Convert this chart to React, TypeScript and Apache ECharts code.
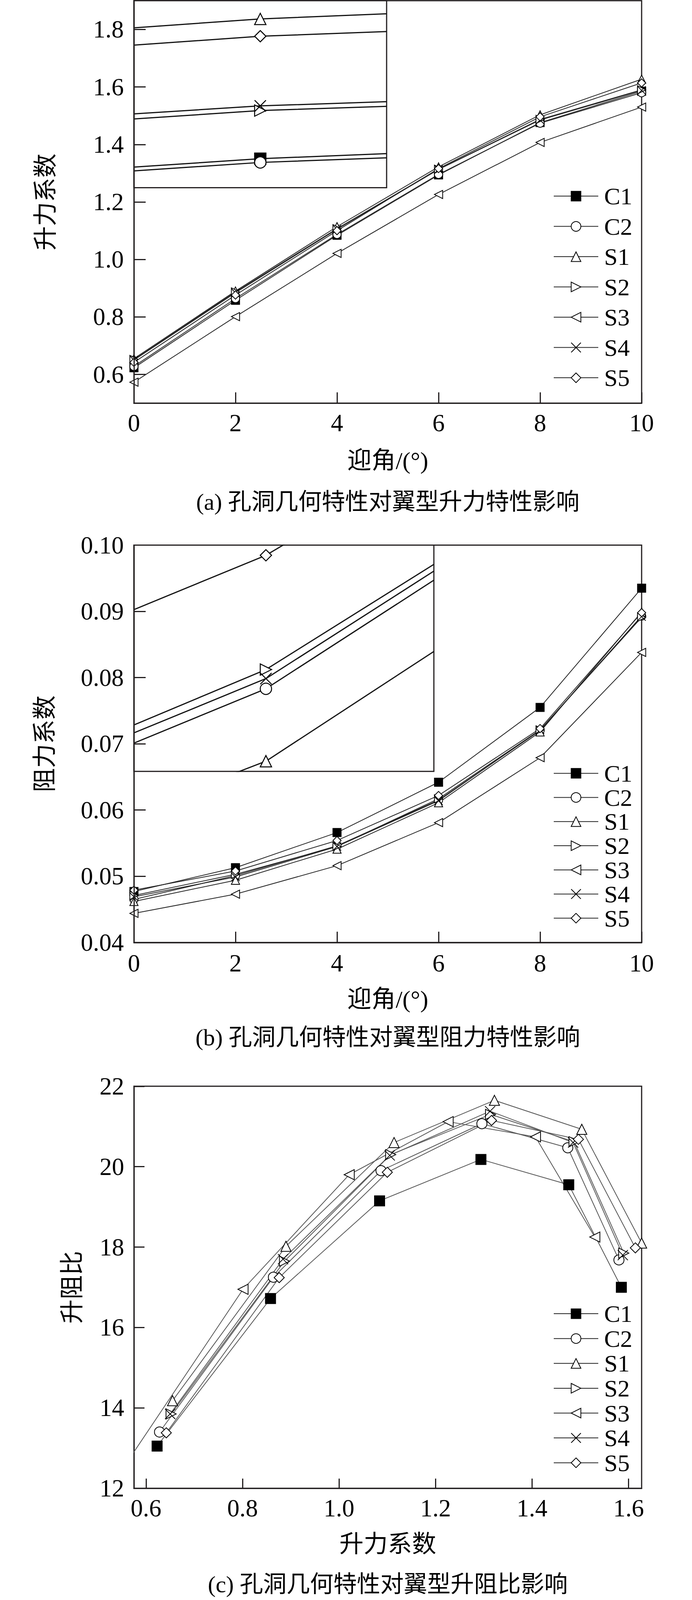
import React, { useEffect, useRef } from 'react';
import * as echarts from 'echarts';

const FONT = '"Liberation Serif", "Times New Roman", "Noto Sans CJK SC", serif';
const FRAME = '#231f20';

const NAMES = ['C1', 'C2', 'S1', 'S2', 'S3', 'S4', 'S5'];
const ALPHA = [0, 2, 4, 6, 8, 10];

// (a) lift coefficient vs angle of attack
const CL_C1 = [0.623, 0.858, 1.084, 1.294, 1.476, 1.585];
const CL_C2 = [0.628, 0.864, 1.087, 1.296, 1.474, 1.580];
const CL_S1 = [0.655, 0.890, 1.114, 1.322, 1.503, 1.627];
const CL_S2 = [0.652, 0.887, 1.107, 1.314, 1.487, 1.590];
const CL_S3 = [0.573, 0.801, 1.021, 1.226, 1.407, 1.530];
const CL_S4 = [0.650, 0.884, 1.105, 1.313, 1.485, 1.588];
const CL_S5 = [0.642, 0.876, 1.100, 1.316, 1.496, 1.614];

// (b) drag coefficient vs angle of attack
const CD_C1 = [0.0477, 0.0513, 0.0566, 0.0642, 0.0755, 0.0935];
const CD_C2 = [0.0465, 0.0501, 0.0546, 0.0615, 0.0720, 0.0893];
const CD_S1 = [0.0462, 0.0494, 0.0541, 0.0611, 0.0718, 0.0899];
const CD_S2 = [0.0471, 0.0503, 0.0545, 0.0617, 0.0721, 0.0891];
const CD_S3 = [0.0444, 0.0473, 0.0516, 0.0581, 0.0679, 0.0838];
const CD_S4 = [0.0469, 0.0499, 0.0545, 0.0614, 0.0721, 0.0892];
const CD_S5 = [0.0479, 0.0508, 0.0554, 0.0622, 0.0723, 0.0898];

// (c) lift-to-drag ratio vs lift coefficient
const LD_C1 = [13.05, 16.72, 19.15, 20.18, 19.55, 17.0];
const LD_C2 = [13.4, 17.25, 19.9, 21.07, 20.47, 17.68];
const LD_S1 = [14.18, 18.02, 20.6, 21.65, 20.93, 18.1];
const LD_S2 = [13.85, 17.65, 20.3, 21.3, 20.62, 17.85];
const LD_S3 = [12.87, 16.95, 19.8, 21.12, 20.74, 18.25];
const LD_S4 = [13.85, 17.7, 20.28, 21.38, 20.6, 17.8];
const LD_S5 = [13.38, 17.24, 19.86, 21.15, 20.68, 17.98];

// inset (a): magnified window around alpha = 2.5
const INSET_A_X = [2.4, 2.5, 2.6];
const INSET_A_XRANGE = [2.4, 2.6];
const INSET_A_YRANGE = [0.91, 0.95];
const INSET_A_C1 = [0.9144, 0.9162, 0.9173];
const INSET_A_C2 = [0.9136, 0.9154, 0.9164];
const INSET_A_S1 = [0.9442, 0.9461, 0.9472];
const INSET_A_S2 = [0.9247, 0.9265, 0.9274];
const INSET_A_S4 = [0.9258, 0.9275, 0.9284];
const INSET_A_S5 = [0.9405, 0.9424, 0.9434];

// inset (b): magnified window around alpha = 2
const INSET_B_X = [1.12, 2.0, 3.12];
const INSET_B_XRANGE = [1.12, 3.12];
const INSET_B_YRANGE = [0.049, 0.051];
const INSET_B_C2 = [0.04925, 0.04973, 0.05069];
const INSET_B_S1 = [0.04864, 0.04909, 0.05006];
const INSET_B_S2 = [0.04941, 0.0499, 0.05083];
const INSET_B_S4 = [0.04934, 0.04982, 0.05077];
const INSET_B_S5 = [0.05043, 0.05091, 0.05179];

const Y_TICKS_A = [0.6, 0.8, 1.0, 1.2, 1.4, 1.6, 1.8];
const X_TICKS_C = [0.6, 0.8, 1.0, 1.2, 1.4, 1.6];

const CAPTIONS = [
  '(a) 孔洞几何特性对翼型升力特性影响',
  '(b) 孔洞几何特性对翼型阻力特性影响',
  '(c) 孔洞几何特性对翼型升阻比影响',
];

const CL = [CL_C1, CL_C2, CL_S1, CL_S2, CL_S3, CL_S4, CL_S5];
const CD = [CD_C1, CD_C2, CD_S1, CD_S2, CD_S3, CD_S4, CD_S5];
const LD = [LD_C1, LD_C2, LD_S1, LD_S2, LD_S3, LD_S4, LD_S5];

const SYMBOLS: Record<string, string> = {
  C1: 'rect',
  C2: 'circle',
  S1: 'triangle',
  S2: 'path://M0,0L10,5L0,10Z',
  S3: 'path://M10,0L0,5L10,10Z',
  S4: 'path://M0,0L10,10M10,0L0,10',
  S5: 'diamond',
};

const REF_W = 1772;
const REF_H = 4441;

function lineSeries(name: string, points: any[], gi: number, opt: any) {
  return {
    type: 'line',
    name,
    xAxisIndex: gi,
    yAxisIndex: gi,
    data: points,
    symbol: SYMBOLS[name.split('-')[0]],
    symbolSize: opt.size,
    showAllSymbol: true,
    silent: true,
    emphasis: { disabled: true },
    itemStyle: {
      color: name.startsWith('C1') ? '#000' : '#fff',
      borderColor: '#000',
      borderWidth: opt.bw ?? 2,
    },
    lineStyle: { color: opt.color, width: opt.width },
    z: opt.z ?? 3,
    animation: false,
  };
}

function insetSeries(name: string, xs: number[], ys: number[], gi: number, size: number) {
  const pts = xs.map((x, i) =>
    i === 1 ? { value: [x, ys[i]] } : { value: [x, ys[i]], symbol: 'none' }
  );
  return lineSeries(name + '-inset', pts, gi, {
    size,
    color: '#111',
    width: 3,
    bw: 2.5,
    z: 11,
  });
}

function buildOption(sy: number) {
  const Y = (v: number) => Math.round(v * sy * 10) / 10;
  const fs = (v: number) => Math.round(v * (0.5 + 0.5 * sy));
  const ms = (v: number) => Math.round(v * (0.5 + 0.5 * sy));

  const axisCommon = {
    type: 'value',
    axisLine: { show: true, onZero: false, lineStyle: { color: FRAME, width: 3 } },
    axisTick: { show: true, inside: true, length: 30, lineStyle: { color: FRAME, width: 3 } },
    splitLine: { show: false },
    nameLocation: 'middle',
    nameTextStyle: { fontSize: fs(64), fontFamily: FONT, color: '#000' },
  };
  const labelStyle = { fontSize: fs(66), fontFamily: FONT, color: '#000' };
  const hiddenAxis = (range: number[]) => ({ type: 'value', min: range[0], max: range[1], show: false });
  const gridFrame = { show: true, borderColor: FRAME, borderWidth: 3, backgroundColor: 'transparent', z: 1 };
  const insetFrame = { show: true, borderColor: FRAME, borderWidth: 3, backgroundColor: '#fff', z: 10 };

  // plot boxes in reference pixels [top, bottom]
  const A = [2, 1119];
  const AI = [2, 521];
  const B = [1513, 2616];
  const BI = [1513, 2141];
  const C = [3015, 4131];

  return {
    animation: false,
    backgroundColor: '#fff',
    grid: [
      { left: 343, width: 1300, top: Y(A[0]), height: Y(A[1]) - Y(A[0]), ...gridFrame },
      { left: 343, width: 647, top: Y(AI[0]), height: Y(AI[1]) - Y(AI[0]), ...insetFrame },
      { left: 343, width: 1300, top: Y(B[0]), height: Y(B[1]) - Y(B[0]), ...gridFrame },
      { left: 343, width: 768, top: Y(BI[0]), height: Y(BI[1]) - Y(BI[0]), ...insetFrame },
      { left: 343, width: 1300, top: Y(C[0]), height: Y(C[1]) - Y(C[0]), ...gridFrame },
    ],
    xAxis: [
      {
        ...axisCommon,
        gridIndex: 0,
        min: 0,
        max: 10,
        interval: 2,
        name: '迎角/(°)',
        nameGap: Y(126),
        axisTick: { ...axisCommon.axisTick, length: Y(30) },
        axisLabel: { ...labelStyle, margin: Y(21) },
      },
      { ...hiddenAxis(INSET_A_XRANGE), gridIndex: 1 },
      {
        ...axisCommon,
        gridIndex: 2,
        min: 0,
        max: 10,
        interval: 2,
        name: '迎角/(°)',
        nameGap: Y(124),
        axisTick: { ...axisCommon.axisTick, length: Y(30) },
        axisLabel: { ...labelStyle, margin: Y(24) },
      },
      { ...hiddenAxis(INSET_B_XRANGE), gridIndex: 3 },
      {
        ...axisCommon,
        gridIndex: 4,
        min: 0.575,
        max: 1.627,
        name: '升力系数',
        nameGap: Y(121),
        axisTick: { ...axisCommon.axisTick, length: Y(27), customValues: X_TICKS_C },
        axisLabel: {
          ...labelStyle,
          margin: Y(21),
          customValues: X_TICKS_C,
          formatter: (v: number) => v.toFixed(1),
        },
      },
    ],
    yAxis: [
      {
        ...axisCommon,
        gridIndex: 0,
        min: 0.5,
        max: 1.9,
        z: 12,
        name: '升力系数',
        nameGap: 195,
        axisTick: { ...axisCommon.axisTick, customValues: Y_TICKS_A },
        axisLabel: {
          ...labelStyle,
          margin: 26,
          customValues: Y_TICKS_A,
          formatter: (v: number) => v.toFixed(1),
        },
      },
      { ...hiddenAxis(INSET_A_YRANGE), gridIndex: 1 },
      {
        ...axisCommon,
        gridIndex: 2,
        min: 0.04,
        max: 0.1,
        interval: 0.01,
        z: 12,
        name: '阻力系数',
        nameGap: 197,
        axisLabel: { ...labelStyle, margin: 26, formatter: (v: number) => v.toFixed(2) },
      },
      { ...hiddenAxis(INSET_B_YRANGE), gridIndex: 3 },
      {
        ...axisCommon,
        gridIndex: 4,
        min: 12,
        max: 22,
        interval: 2,
        name: '升阻比',
        nameGap: 127,
        axisTick: { ...axisCommon.axisTick, length: 27 },
        axisLabel: { ...labelStyle, margin: 25 },
      },
    ],
    legend: [
      { center: 539, step: 84 },
      { center: 2141, step: 67 },
      { center: 3641, step: 69 },
    ].map((l) => {
      const lh = fs(64);
      return {
        orient: 'vertical',
        left: 1412,
        top: Y(l.center) - lh / 2,
        itemWidth: 114,
        itemHeight: ms(32),
        itemGap: Y(l.step) - lh,
        selectedMode: false,
        data: NAMES,
        textStyle: { fontSize: fs(64), fontFamily: FONT, color: '#000', lineHeight: lh, padding: [0, 0, 0, 10] },
      };
    }),
    graphic: [1393, 2880, 4398].map((cy, i) => ({
      type: 'text',
      x: 993,
      y: Y(cy),
      silent: true,
      style: {
        text: CAPTIONS[i],
        align: 'center',
        verticalAlign: 'middle',
        fontSize: fs(62),
        fontFamily: FONT,
        fill: '#000',
      },
    })),
    series: [
      ...NAMES.map((n, k) =>
        lineSeries(n, ALPHA.map((a, i) => [a, CL[k][i]]), 0, { size: ms(22), color: '#222', width: 2 })
      ),
      ...NAMES.map((n, k) =>
        lineSeries(n, ALPHA.map((a, i) => [a, CD[k][i]]), 2, { size: ms(22), color: '#222', width: 2 })
      ),
      ...NAMES.map((n, k) =>
        lineSeries(n, CL[k].map((c, i) => [c, LD[k][i]]), 4, { size: ms(27), color: '#555', width: 2 })
      ),
      insetSeries('C1', INSET_A_X, INSET_A_C1, 1, ms(30)),
      insetSeries('C2', INSET_A_X, INSET_A_C2, 1, ms(30)),
      insetSeries('S1', INSET_A_X, INSET_A_S1, 1, ms(30)),
      insetSeries('S2', INSET_A_X, INSET_A_S2, 1, ms(30)),
      insetSeries('S4', INSET_A_X, INSET_A_S4, 1, ms(30)),
      insetSeries('S5', INSET_A_X, INSET_A_S5, 1, ms(30)),
      insetSeries('C2', INSET_B_X, INSET_B_C2, 3, ms(30)),
      insetSeries('S1', INSET_B_X, INSET_B_S1, 3, ms(30)),
      insetSeries('S2', INSET_B_X, INSET_B_S2, 3, ms(30)),
      insetSeries('S4', INSET_B_X, INSET_B_S4, 3, ms(30)),
      insetSeries('S5', INSET_B_X, INSET_B_S5, 3, ms(30)),
    ],
  };
}

const PAGE_H = Math.min(REF_H, typeof window !== 'undefined' && window.innerHeight > 0 ? window.innerHeight : REF_H);

export default function App() {
  const ref = useRef<HTMLDivElement>(null);
  useEffect(() => {
    const chart = echarts.init(ref.current!, null, { renderer: 'svg' });
    chart.setOption(buildOption(PAGE_H / REF_H) as any);
    return () => chart.dispose();
  }, []);
  return (
    <div
      ref={ref}
      style={{ position: 'absolute', left: 0, top: 0, width: REF_W, height: PAGE_H, background: '#fff' }}
    />
  );
}
